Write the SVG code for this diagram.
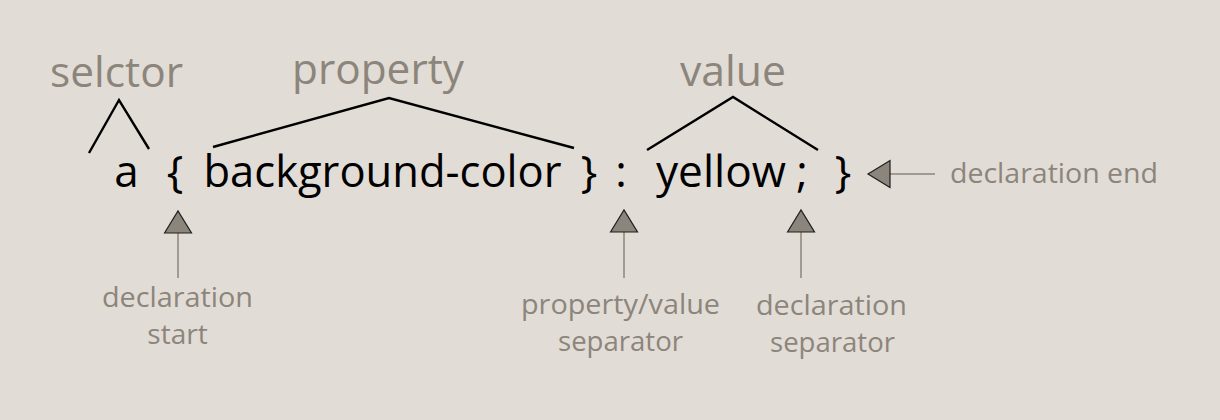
<svg xmlns="http://www.w3.org/2000/svg" width="1220" height="420" viewBox="0 0 1220 420">
  <style>
    .code { font-family: "Open Sans", "Noto Sans", sans-serif; font-size: 44px; fill: #000000; text-anchor: middle; }
    .head { font-family: "Open Sans", "Noto Sans", sans-serif; font-size: 42px; fill: #8c857b; text-anchor: middle; }
    .note { font-family: "Open Sans", "Noto Sans", sans-serif; font-size: 28px; fill: #8c857b; text-anchor: middle; }
    .caret { fill: none; stroke: #000000; stroke-width: 2.4; stroke-linejoin: miter; }
    .pointer { fill: none; stroke: #a39b91; stroke-width: 2; marker-end: url(#tri); }
  </style>
  <defs>
    <marker id="tri" viewBox="-1 -1 24 29" refX="22" refY="13.5" markerWidth="24" markerHeight="29" markerUnits="userSpaceOnUse" orient="auto" overflow="visible">
      <path d="M0,0 L22,13.5 L0,27 Z" fill="#8c857b" stroke="#1e1e1e" stroke-width="1.2" stroke-linejoin="miter"/>
    </marker>
  </defs>
  <rect width="1220" height="420" fill="#e2dcd6"/>

  <g id="code">
    <text class="code" x="126.5" y="187">a</text>
    <text class="code" x="175" y="187">{</text>
    <text class="code" x="382.5" y="187" textLength="358" lengthAdjust="spacingAndGlyphs">background-color</text>
    <text class="code" x="589" y="187">}</text>
    <text class="code" x="621" y="187">:</text>
    <text class="code" x="721" y="187" textLength="130" lengthAdjust="spacingAndGlyphs">yellow</text>
    <text class="code" x="802" y="187">;</text>
    <text class="code" x="843" y="187">}</text>
  </g>

  <g id="selector-label">
    <text class="head" x="116.5" y="87" textLength="133" lengthAdjust="spacingAndGlyphs">selctor</text>
  </g>
  <g id="property-label">
    <text class="head" x="378" y="84" textLength="172" lengthAdjust="spacingAndGlyphs">property</text>
  </g>
  <g id="value-label">
    <text class="head" x="733" y="86" textLength="106" lengthAdjust="spacingAndGlyphs">value</text>
  </g>

  <g id="declaration-start">
    <text class="note" x="177.5" y="307" textLength="151" lengthAdjust="spacingAndGlyphs">declaration</text>
    <text class="note" x="177.5" y="344">start</text>
  </g>
  <g id="property-value-separator">
    <text class="note" x="620.5" y="314" textLength="199" lengthAdjust="spacingAndGlyphs">property/value</text>
    <text class="note" x="620.5" y="351" textLength="125" lengthAdjust="spacingAndGlyphs">separator</text>
  </g>
  <g id="declaration-separator">
    <text class="note" x="831.5" y="315" textLength="151" lengthAdjust="spacingAndGlyphs">declaration</text>
    <text class="note" x="832.5" y="352" textLength="125" lengthAdjust="spacingAndGlyphs">separator</text>
  </g>
  <g id="declaration-end">
    <text class="note" x="1054" y="183" textLength="208" lengthAdjust="spacingAndGlyphs">declaration end</text>
  </g>

  <g id="connectors">
    <polyline class="caret" points="89,153 119,100 149,149"/>
    <polyline class="caret" points="213,147 389,98 574,148"/>
    <polyline class="caret" points="647,150 733,97 818,150"/>
    <line class="pointer" x1="178" y1="278" x2="178" y2="211"/>
    <line class="pointer" x1="624" y1="278" x2="624" y2="210"/>
    <line class="pointer" x1="801" y1="278" x2="801" y2="210"/>
    <line class="pointer" x1="935" y1="174" x2="868" y2="174"/>
  </g>
</svg>
